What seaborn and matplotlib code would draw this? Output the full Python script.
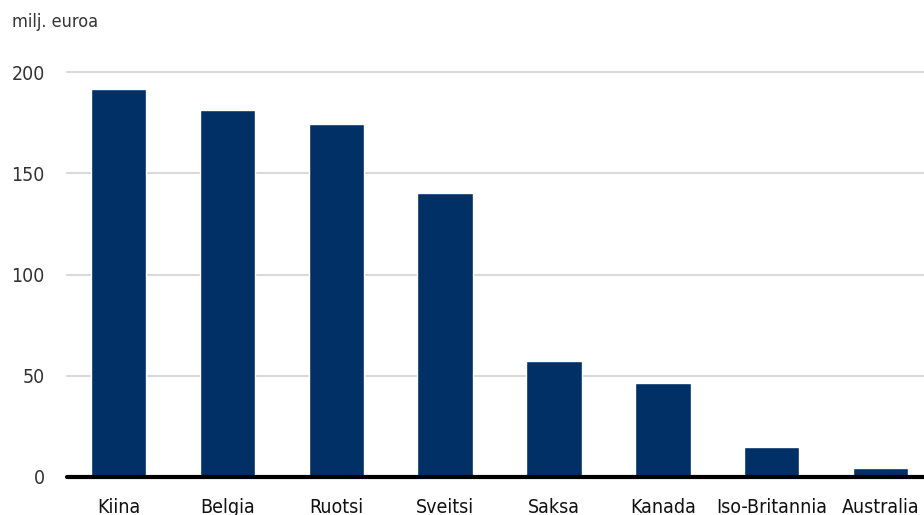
import matplotlib
matplotlib.use("Agg")
import matplotlib.pyplot as plt
import seaborn as sns
import pandas as pd

countries = ["Kiina", "Belgia", "Ruotsi", "Sveitsi", "Saksa", "Kanada", "Iso-Britannia", "Australia"]
values = [191.5, 181.0, 174.3, 140.2, 57.3, 46.4, 15.0, 4.3]
yticks = [0, 50, 100, 150, 200]
unit_label = "milj. euroa"

sns.set_theme(style="white")
plt.rcParams['font.family'] = ['DejaVu Sans']
plt.rcParams['font.stretch'] = 'condensed'

df = pd.DataFrame({"country": countries, "value": values})

fig = plt.figure(figsize=(9.24, 5.15), dpi=100)
ax = fig.add_axes([67/924, 38/515, 857/924, 405/515])
sns.barplot(data=df, x="country", y="value", color="#003066", saturation=1,
            width=0.51, ax=ax, zorder=2)

ax.set_xlim(-0.475, 7.4)
ax.set_ylim(0, 200)
ax.set_yticks(yticks)
for y in yticks[1:]:
    ax.axhline(y, color="#d9d9d9", lw=1.5, zorder=1, clip_on=False)
ax.axhline(0, color="black", lw=3, zorder=3, clip_on=False)

for s in ax.spines.values():
    s.set_visible(False)
ax.set_xlabel("")
ax.set_ylabel("")
ax.tick_params(axis="y", length=0, pad=16, labelsize=14, labelcolor="#333333")
ax.tick_params(axis="x", length=0, pad=15, labelsize=14, labelcolor="#111111")
for lbl in ax.get_yticklabels():
    lbl.set_horizontalalignment("right")

fig.text(12/924, 1 - 22/515, unit_label, fontsize=13, color="#333333",
         ha="left", va="center")

fig.savefig("out.png", dpi=100)
